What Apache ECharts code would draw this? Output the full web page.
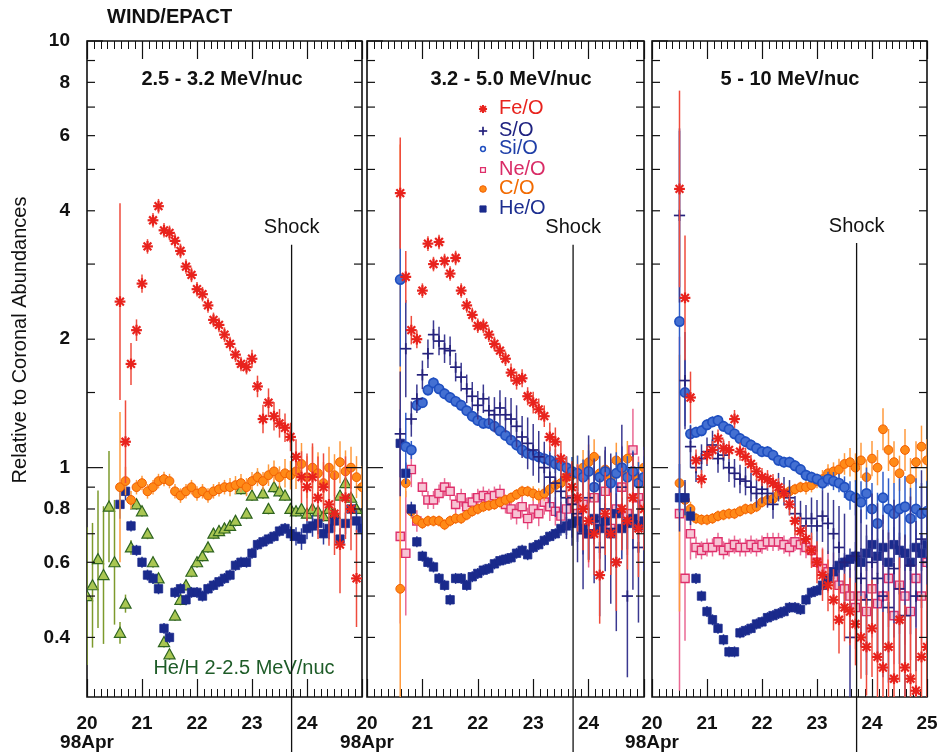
<!DOCTYPE html>
<html><head><meta charset="utf-8">
<script src="https://cdn.jsdelivr.net/npm/echarts@6/dist/echarts.min.js"></script>
<style>html,body{margin:0;padding:0;background:#fff}#c{width:939px;height:752px}</style>
</head><body><div id="c"></div>
<script>
// ---------------- DATA ----------------
const days = [20.0,20.1,20.2,20.3,20.4,20.5,20.6,20.7,20.8,20.9,21.0,21.1,21.2,21.3,21.4,21.5,21.6,21.7,21.8,21.9,22.0,22.1,22.2,22.3,22.4,22.5,22.6,22.7,22.8,22.9,23.0,23.1,23.2,23.3,23.4,23.5,23.6,23.7,23.8,23.9,24.0,24.1,24.2,24.3,24.4,24.5,24.6,24.7,24.8,24.9,25.0];
const xTickDays = [20,21,22,23,24,25];
const dateLabel = '98Apr';
const yTickVals = [0.4,0.5,0.6,0.7,0.8,0.9,1,1.5,2,3,4,5,6,7,8,9,10];
const yMajorTicks = [1,10];
const yLabelVals = [0.4,0.6,0.8,1,2,4,6,8,10];
const shockDay = 23.72;
const shockTop = [3.33,3.33,3.36];
const panelTitles = ['2.5 - 3.2 MeV/nuc','3.2 - 5.0 MeV/nuc','5 - 10 MeV/nuc'];
const legendNames = ['Fe/O','S/O','Si/O','Ne/O','C/O','He/O'];

// Panel 1 : 2.5 - 3.2 MeV/nuc  (values; errors in %)
const p1FeO = [null,null,null,null,null,null,2.45,1.15,1.75,2.1,2.7,3.3,3.8,4.1,3.6,3.55,3.4,3.22,2.96,2.83,2.62,2.55,2.4,2.22,2.16,2.05,1.95,1.84,1.75,1.72,1.8,1.55,1.3,1.42,1.32,1.27,1.24,1.18,1.06,0.95,0.9,0.95,0.85,0.9,0.82,0.78,0.66,0.85,0.8,0.55,null];
const p1FeOErr = [0,0,0,0,0,0,70,25,12,6,5,4,4,4,4,4,4,4,4,4,4,4,4,4,4,4,4,4,4,4,5,6,8,8,8,8,8,8,10,15,20,20,25,20,25,25,30,25,25,30,0];
const p1CO = [null,null,null,null,null,null,0.9,0.93,0.84,0.9,0.92,0.88,0.9,0.93,0.94,0.93,0.88,0.86,0.88,0.9,0.87,0.88,0.86,0.88,0.89,0.9,0.9,0.91,0.92,0.9,0.93,0.95,0.93,0.96,0.98,0.95,0.97,0.96,0.98,1.02,0.95,1.0,0.97,0.92,1.0,0.96,1.03,0.98,1.0,0.95,0.9];
const p1COErr = [0,0,0,0,0,0,50,8,5,4,4,4,4,4,4,4,4,4,4,4,4,4,4,4,4,4,5,5,5,5,5,5,5,6,6,6,8,8,10,12,12,12,12,12,12,12,12,12,12,12,12];
const p1HeO = [null,null,null,null,null,null,0.82,0.88,0.73,0.64,0.6,0.56,0.55,0.52,0.42,0.4,0.51,0.52,0.49,0.51,0.51,0.5,0.52,0.53,0.54,0.55,0.56,0.59,0.6,0.6,0.63,0.66,0.67,0.68,0.69,0.71,0.72,0.7,0.69,0.68,0.72,0.73,0.74,0.7,0.72,0.75,0.68,0.74,0.8,0.75,0.72];
const p1HeOErr = [0,0,0,0,0,0,8,5,3,3,3,3,3,3,3,3,3,3,3,3,3,3,3,3,3,3,3,3,3,3,3,3,3,3,3,3,3,4,5,6,6,6,6,6,6,6,6,6,6,6,6];
const p1HeH = [0.5,0.53,0.61,0.56,0.81,0.6,0.41,0.48,0.65,0.82,0.79,0.7,0.6,0.55,0.39,0.365,0.45,0.49,0.53,0.57,0.6,0.62,0.65,0.7,0.71,0.72,0.73,0.75,0.89,0.78,0.86,0.95,0.87,0.8,0.9,0.88,0.86,0.8,0.79,0.8,0.78,0.8,0.79,0.77,0.8,0.78,0.86,0.92,0.85,0.8,null];
const p1HeHErr = [45,40,45,45,35,40,6,5,4,3,3,3,3,3,3,3,3,3,3,3,3,3,3,3,3,3,3,3,3,3,3,3,3,3,3,3,3,3,3,3,3,3,3,3,3,3,3,3,3,3,0];

// Panel 2 : 3.2 - 5.0 MeV/nuc
const p2FeO = [null,null,null,null,null,null,4.4,2.8,2.1,2.0,2.6,3.35,3.0,3.38,3.05,2.85,3.1,2.6,2.4,2.28,2.15,2.15,2.05,1.95,1.88,1.8,1.67,1.6,1.62,1.47,1.42,1.37,1.32,1.18,1.15,1.05,0.95,0.9,0.85,0.8,0.75,0.7,0.56,0.78,0.7,0.6,0.8,0.75,0.85,0.72,0.8];
const p2FeOErr = [0,0,0,0,0,0,35,15,8,5,4,4,4,4,4,4,4,4,4,4,4,4,4,4,4,4,5,5,5,5,6,6,6,8,8,10,12,15,20,25,25,25,30,25,25,30,25,30,25,30,25];
const p2SO = [null,null,null,null,null,null,1.2,1.9,1.3,1.45,1.65,1.85,2.05,1.98,1.9,1.88,1.72,1.63,1.53,1.47,1.4,1.45,1.36,1.33,1.38,1.33,1.3,1.25,1.18,1.14,1.1,1.06,1.0,0.95,0.92,0.88,0.85,0.82,0.78,0.7,0.85,0.75,0.65,0.8,0.72,0.6,0.9,0.5,0.75,0.65,0.8];
const p2SOErr = [0,0,0,0,0,0,40,30,10,8,8,8,8,8,8,8,8,8,8,8,8,8,8,10,10,10,12,12,12,15,15,15,15,18,20,20,25,25,30,35,40,40,45,40,50,45,40,55,45,50,40];
const p2SiO = [null,null,null,null,null,null,2.76,1.12,1.1,1.4,1.42,1.52,1.58,1.53,1.49,1.46,1.43,1.4,1.36,1.32,1.29,1.27,1.27,1.25,1.22,1.19,1.16,1.13,1.1,1.08,1.07,1.06,1.05,1.04,1.02,1.01,1.0,0.98,0.97,0.95,0.98,0.9,0.95,0.98,0.92,0.97,1.0,0.95,0.98,0.92,0.95];
const p2SiOErr = [0,0,0,0,0,0,60,20,5,3,3,3,3,3,3,3,3,3,3,3,3,3,3,3,3,3,3,3,3,3,3,4,4,4,5,5,6,8,10,10,12,12,12,12,12,12,12,12,12,12,12];
const p2NeO = [null,null,null,null,null,null,0.69,0.63,0.99,0.75,0.9,0.84,0.84,0.87,0.9,0.88,0.82,0.85,0.81,0.83,0.85,0.86,0.85,0.86,0.87,0.82,0.8,0.78,0.81,0.76,0.8,0.78,0.83,0.81,0.79,0.77,0.8,0.84,0.78,0.82,0.7,0.85,0.75,0.88,0.72,0.8,0.9,0.78,1.1,0.85,0.82];
const p2NeOErr = [0,0,0,0,0,0,60,40,10,6,5,5,5,5,5,5,5,5,5,5,5,5,5,5,5,5,6,6,6,6,6,7,7,8,8,8,10,12,15,20,20,22,22,25,22,25,25,25,25,25,25];
const p2CO = [null,null,null,null,null,null,0.52,0.92,0.79,0.755,0.74,0.75,0.75,0.75,0.735,0.75,0.76,0.76,0.775,0.79,0.8,0.81,0.815,0.82,0.83,0.84,0.85,0.865,0.88,0.88,0.87,0.86,0.87,0.89,0.91,0.92,0.95,0.96,0.97,1.0,1.03,1.06,0.97,0.99,0.95,1.04,0.98,1.05,0.97,0.94,1.0];
const p2COErr = [0,0,0,0,0,0,1000,8,4,3,3,3,3,3,3,3,3,3,3,3,3,3,3,3,3,3,3,3,3,3,4,4,4,5,5,5,6,8,10,10,10,10,10,10,10,10,10,10,10,10,10];
const p2HeO = [null,null,null,null,null,null,1.14,0.97,0.8,0.67,0.62,0.6,0.585,0.55,0.53,0.49,0.55,0.55,0.53,0.555,0.565,0.575,0.58,0.595,0.605,0.61,0.615,0.63,0.64,0.625,0.65,0.66,0.675,0.69,0.7,0.72,0.73,0.74,0.75,0.72,0.7,0.76,0.72,0.75,0.7,0.78,0.72,0.74,0.76,0.73,0.75];
const p2HeOErr = [0,0,0,0,0,0,20,6,4,3,3,3,3,3,3,3,3,3,3,3,3,3,3,3,3,3,3,3,3,3,3,3,3,3,3,4,5,8,12,15,15,15,18,15,18,15,18,15,18,15,15];

// Panel 3 : 5 - 10 MeV/nuc
const p3FeO = [null,null,null,null,null,4.5,2.5,1.46,1.04,0.94,1.07,1.1,1.17,1.11,1.1,1.3,1.09,1.06,1.02,0.98,0.95,0.94,0.92,0.9,0.87,0.82,0.75,0.71,0.68,0.64,0.6,0.56,0.53,0.49,0.44,0.47,0.46,0.43,0.4,0.38,0.42,0.36,0.34,0.38,0.32,0.44,0.34,0.32,0.3,0.36,0.38];
const p3FeOErr = [0,0,0,0,0,70,40,15,6,5,5,5,5,5,5,5,5,5,5,5,5,5,5,5,5,6,8,8,8,10,12,15,15,18,20,20,20,25,25,30,30,30,35,35,35,40,40,40,40,40,40];
const p3SO = [null,null,null,null,null,3.9,1.6,1.12,1.0,1.05,1.09,1.13,1.05,1.07,1.0,0.97,0.94,0.93,0.9,0.87,0.89,0.87,0.82,0.9,0.88,0.85,0.78,0.76,0.73,0.76,0.73,0.77,0.74,0.7,0.65,0.6,0.4,0.62,0.55,0.49,0.6,0.55,0.5,0.47,0.58,0.52,0.45,0.59,0.5,0.68,0.6];
const p3SOErr = [0,0,0,0,0,60,30,12,8,8,8,8,8,8,8,8,8,8,8,8,8,8,8,8,8,10,10,10,12,12,15,15,18,20,25,30,45,40,45,50,45,50,55,50,45,50,55,45,50,45,50];
const p3SiO = [null,null,null,null,null,2.2,1.5,1.2,1.21,1.22,1.26,1.28,1.29,1.25,1.23,1.2,1.17,1.15,1.13,1.11,1.09,1.09,1.07,1.04,1.03,1.03,1.01,0.99,0.96,0.95,0.94,0.92,0.94,0.93,0.92,0.9,0.86,0.85,0.83,0.87,0.8,0.74,0.85,0.8,0.78,0.8,0.81,0.76,0.8,0.78,0.79];
const p3SiOErr = [0,0,0,0,0,180,20,5,3,3,3,3,3,3,3,3,3,3,3,3,3,3,3,3,3,3,3,3,3,3,3,4,4,5,5,6,8,10,12,15,15,18,15,18,18,18,18,18,18,18,18];
const p3NeO = [null,null,null,null,null,0.78,0.55,0.7,0.65,0.64,0.65,0.65,0.67,0.64,0.65,0.66,0.65,0.65,0.66,0.65,0.66,0.67,0.67,0.67,0.66,0.65,0.67,0.66,0.65,0.64,0.6,0.58,0.57,0.55,0.53,0.52,0.5,0.47,0.5,0.46,0.52,0.48,0.5,0.55,0.45,0.53,0.5,0.46,0.55,0.5,0.6];
const p3NeOErr = [0,0,0,0,0,160,40,15,6,5,5,5,5,5,5,5,5,5,5,5,5,5,5,5,5,5,5,6,6,8,10,12,12,15,15,18,20,25,25,30,30,30,30,30,30,30,30,30,30,30,30];
const p3CO = [null,null,null,null,null,0.92,0.84,0.8,0.76,0.755,0.755,0.76,0.77,0.775,0.78,0.78,0.79,0.8,0.8,0.81,0.83,0.84,0.845,0.865,0.87,0.88,0.89,0.9,0.9,0.91,0.93,0.94,0.97,0.98,0.99,1.02,1.03,1.0,1.04,0.95,1.05,1.0,1.23,1.1,1.03,0.97,1.1,0.94,1.03,1.12,1.04];
const p3COErr = [0,0,0,0,0,100,10,4,3,3,3,3,3,3,3,3,3,3,3,3,3,3,3,3,3,3,3,3,4,4,4,5,5,5,6,6,8,8,10,10,10,10,12,12,12,10,12,12,12,12,12];
const p3HeO = [null,null,null,null,null,0.85,0.85,0.77,0.55,0.5,0.46,0.44,0.42,0.395,0.37,0.37,0.41,0.415,0.42,0.43,0.435,0.445,0.45,0.455,0.46,0.47,0.47,0.465,0.49,0.51,0.515,0.53,0.55,0.57,0.59,0.6,0.61,0.62,0.6,0.63,0.66,0.62,0.65,0.6,0.66,0.64,0.63,0.6,0.65,0.63,0.66];
const p3HeOErr = [0,0,0,0,0,20,10,5,3,3,3,3,3,3,3,3,3,3,3,3,3,3,3,3,3,3,3,3,3,3,3,3,3,4,4,5,6,8,8,10,10,10,10,10,10,10,10,10,10,10,10];

// ---------------- STYLE ----------------
const FF = '"Liberation Sans", Arial, Helvetica, sans-serif';
const STY = {
  'Fe/O': {kind:'star',   color:'#e8231d', bar:'#ef4b3c', text:'#e8231d'},
  'S/O':  {kind:'plus',   color:'#25227c', bar:'#3a3890', text:'#1f2280'},
  'Si/O': {kind:'circle', color:'#1f4fc0', fill:'#4470d2', bar:'#2f5cc8', text:'#1f3fa8'},
  'Ne/O': {kind:'sqopen', color:'#df2f6b', fill:'#f7c4d4', bar:'#ea6a94', text:'#d92c66'},
  'C/O':  {kind:'dot',    color:'#f25f00', fill:'#ff8a18', bar:'#ff9a3c', text:'#f26a00'},
  'He/O': {kind:'square', color:'#1a2a8c', bar:'#2a3a9c', text:'#1c2e90'},
  'He/H': {kind:'tri',    color:'#2e6420', fill:'#a9c652', bar:'#7d9a2c', text:'#1e5c28'}
};
const panels = [
  [['He/H',p1HeH,p1HeHErr],['He/O',p1HeO,p1HeOErr],['C/O',p1CO,p1COErr],['Fe/O',p1FeO,p1FeOErr]],
  [['Ne/O',p2NeO,p2NeOErr],['C/O',p2CO,p2COErr],['He/O',p2HeO,p2HeOErr],['Si/O',p2SiO,p2SiOErr],['S/O',p2SO,p2SOErr],['Fe/O',p2FeO,p2FeOErr]],
  [['Ne/O',p3NeO,p3NeOErr],['C/O',p3CO,p3COErr],['He/O',p3HeO,p3HeOErr],['Si/O',p3SiO,p3SiOErr],['S/O',p3SO,p3SOErr],['Fe/O',p3FeO,p3FeOErr]]
];
const gridBoxes = [
  {left:87, top:41, width:275, height:656},
  {left:367,top:41, width:277, height:656},
  {left:652,top:41, width:275, height:656}
];
const Y_MIN = 0.29, Y_MAX = 10;

function markerEls(kind, x, y, st, s){
  s = s || 1;
  const L = (x1,y1,x2,y2,w,c)=>({type:'line', shape:{x1,y1,x2,y2}, style:{stroke:c||st.color, lineWidth:w}});
  if(kind==='star'){ const r=5.4*s, d=r*0.72, w=2.2*Math.min(1,s+0.15); return [L(x-r,y,x+r,y,w),L(x,y-r,x,y+r,w),L(x-d,y-d,x+d,y+d,w),L(x-d,y+d,x+d,y-d,w)]; }
  if(kind==='plus'){ const r=5.6*s; return [L(x-r,y,x+r,y,1.7),L(x,y-r,x,y+r,1.7)]; }
  if(kind==='circle'){ return [{type:'circle', shape:{cx:x,cy:y,r:4.6*s}, style:{fill:st.fill, stroke:st.color, lineWidth:1.7}}]; }
  if(kind==='circleOpen'){ return [{type:'circle', shape:{cx:x,cy:y,r:3.2*s}, style:{fill:'#fff', stroke:st.color, lineWidth:1.5}}]; }
  if(kind==='sqopen'){ const h=4.1*s; return [{type:'rect', shape:{x:x-h,y:y-h,width:2*h,height:2*h}, style:{fill:st.fill, stroke:st.color, lineWidth:1.4}}]; }
  if(kind==='sqopenLeg'){ const h=3.2*s; return [{type:'rect', shape:{x:x-h,y:y-h,width:2*h,height:2*h}, style:{fill:'#fff', stroke:st.color, lineWidth:1.3}}]; }
  if(kind==='square'){ const h=4.2*s; return [{type:'rect', shape:{x:x-h,y:y-h,width:2*h,height:2*h}, style:{fill:st.color, stroke:st.color, lineWidth:0.8}}]; }
  if(kind==='dot'){ return [{type:'circle', shape:{cx:x,cy:y,r:4.4*s}, style:{fill:st.fill, stroke:st.color, lineWidth:1}}]; }
  if(kind==='tri'){ const r=5.6*s; return [{type:'polygon', shape:{points:[[x,y-r],[x-r,y+r*0.8],[x+r,y+r*0.8]]}, style:{fill:st.fill, stroke:st.color, lineWidth:1.2}}]; }
  return [];
}

function makeRender(st){
  return function(params, api){
    const t=api.value(0), v=api.value(1), e=api.value(2);
    const p=api.coord([t,v]);
    const ch=[];
    if(e>0){
      const f=1+e/100;
      const lo=api.coord([t,v/f]), hi=api.coord([t,v*f]);
      ch.push({type:'line', shape:{x1:p[0],y1:lo[1],x2:p[0],y2:hi[1]}, style:{stroke:st.bar,lineWidth:1.5}});
    }
    markerEls(st.kind,p[0],p[1],st,1).forEach(el=>ch.push(el));
    return {type:'group', children:ch};
  };
}

function buildData(vals, errs){
  const out=[];
  for(let i=0;i<days.length;i++){ if(vals[i]==null) continue; out.push([days[i], vals[i], errs[i]||0]); }
  return out;
}

const grid=[], xAxis=[], yAxis=[], series=[];
gridBoxes.forEach((g,i)=>{
  grid.push(Object.assign({show:true, borderColor:'#111', borderWidth:1.6, backgroundColor:'transparent', containLabel:false, outerBoundsMode:'none'}, g));
  const tickCommon = {
    type:'value', gridIndex:i, min:20, max:25, interval:1,
    axisLine:{show:false}, splitLine:{show:false}, minorSplitLine:{show:false},
    axisTick:{show:true, inside:true, length:18, lineStyle:{color:'#111', width:1.2}},
    minorTick:{show:true, splitNumber:8, length:8, lineStyle:{color:'#111', width:1}}
  };
  xAxis.push(Object.assign({}, tickCommon, {position:'bottom',
    axisLabel:{show:true, margin:17, fontSize:19, fontWeight:'bold', color:'#111', fontFamily:FF, lineHeight:19,
      formatter:(v)=>{ if(v===xTickDays[0]) return xTickDays[0]+'\n'+dateLabel; if(v===xTickDays[5] && i<2) return ''; return String(v); }}}));
  xAxis.push(Object.assign({}, tickCommon, {position:'top', axisLabel:{show:false}}));
  yAxis.push({type:'log', logBase:10, gridIndex:i, min:Y_MIN, max:Y_MAX,
    axisLine:{show:false}, axisTick:{show:false}, axisLabel:{show:false}, splitLine:{show:false}, minorTick:{show:false}});

  panels[i].forEach(([name, vals, errs])=>{
    const st=STY[name];
    series.push({type:'custom', name, xAxisIndex:2*i, yAxisIndex:i, clip:true, silent:true,
      dimensions:['t','v','e'], encode:{x:0, y:1}, itemStyle:{color:st.color},
      data:buildData(vals, errs), renderItem:makeRender(st), z:3});
  });

  series.push({type:'custom', xAxisIndex:2*i, yAxisIndex:i, clip:false, silent:true, z:6,
    dimensions:['t','v'], encode:{x:0,y:1},
    data:yTickVals.map(v=>[xTickDays[0], v]),
    renderItem:(params, api)=>{
      const v=api.value(1);
      const pl=api.coord([20,v]), pr=api.coord([25,v]);
      const len = yMajorTicks.indexOf(v)>=0 ? 16 : 8;
      const ch=[
        {type:'line', shape:{x1:pl[0],y1:pl[1],x2:pl[0]+len,y2:pl[1]}, style:{stroke:'#111',lineWidth:1.2}},
        {type:'line', shape:{x1:pr[0]-len,y1:pr[1],x2:pr[0],y2:pr[1]}, style:{stroke:'#111',lineWidth:1.2}}
      ];
      if(i===0 && yLabelVals.indexOf(v)>=0){
        ch.push({type:'text', style:{text:String(v), x:pl[0]-17, y:pl[1], align:'right', verticalAlign:'middle', textAlign:'right', textVerticalAlign:'middle', fill:'#111', font:'bold 19px '+FF}});
      }
      return {type:'group', children:ch};
    }});

  series.push({type:'custom', xAxisIndex:2*i, yAxisIndex:i, clip:false, silent:true, z:7,
    dimensions:['t','v'], encode:{x:0,y:1},
    data:[[shockDay, shockTop[i]]],
    renderItem:(params, api)=>{
      const p=api.coord([api.value(0), api.value(1)]);
      const pb=api.coord([api.value(0), Y_MIN]);
      return {type:'group', children:[
        {type:'line', shape:{x1:p[0],y1:p[1],x2:p[0],y2:pb[1]+56}, style:{stroke:'#111',lineWidth:1.3}},
        {type:'text', style:{text:'Shock', x:p[0], y:p[1]-17, align:'center', verticalAlign:'middle', textAlign:'center', textVerticalAlign:'middle', fill:'#111', font:'20px '+FF}}
      ]};
    }});
});

const graphic=[];
graphic.push({type:'text', x:107, y:17, style:{text:'WIND/EPACT', align:'left', verticalAlign:'middle', textAlign:'left', textVerticalAlign:'middle', fill:'#111', font:'bold 20px '+FF}});
const titleX=[222,511,790];
panelTitles.forEach((t,i)=>graphic.push({type:'text', x:titleX[i], y:79, style:{text:t, align:'center', verticalAlign:'middle', textAlign:'center', textVerticalAlign:'middle', fill:'#111', font:'bold 20px '+FF}}));
graphic.push({type:'text', x:20, y:340, rotation:Math.PI/2, style:{text:'Relative to Coronal Abundances', align:'center', verticalAlign:'middle', textAlign:'center', textVerticalAlign:'middle', fill:'#111', font:'20px '+FF}});
graphic.push({type:'text', x:244, y:668, style:{text:'He/H 2-2.5 MeV/nuc', align:'center', verticalAlign:'middle', textAlign:'center', textVerticalAlign:'middle', fill:STY['He/H'].text, font:'20px '+FF}});
const legRowY=[108,130,148,169,188,208];
const legKind={'Fe/O':'star','S/O':'plus','Si/O':'circleOpen','Ne/O':'sqopenLeg','C/O':'dot','He/O':'square'};
legendNames.forEach((n,k)=>{
  const st=STY[n];
  const els=markerEls(legKind[n], 483, legRowY[k]+1, st, n==='Fe/O'?0.75:0.75);
  els.forEach(e=>graphic.push(e));
  graphic.push({type:'text', x:499, y:legRowY[k], style:{text:n, align:'left', verticalAlign:'middle', textAlign:'left', textVerticalAlign:'middle', fill:st.text, font:'20px '+FF}});
});

const chart = echarts.init(document.getElementById('c'), null, {renderer:'canvas'});
chart.setOption({animation:false, backgroundColor:'#fff', grid, xAxis, yAxis, series, graphic});
</script>
</body></html>
